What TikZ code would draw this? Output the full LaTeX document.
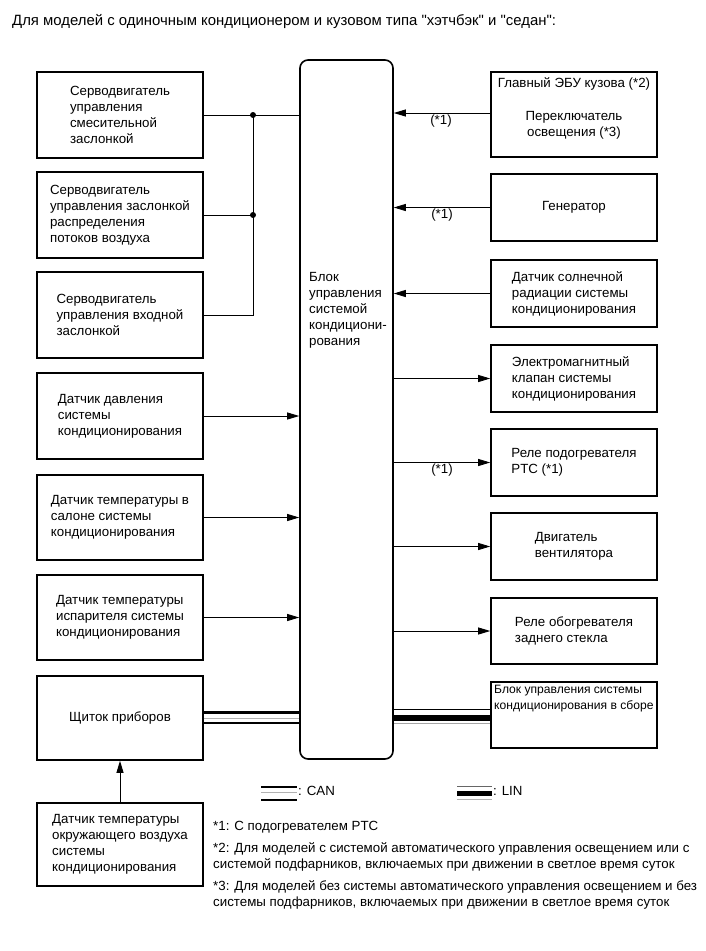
\documentclass[tikz,border=0pt]{standalone}
\usepackage{fontspec}
\setmainfont{Liberation Sans}[Ligatures=TeXOff]
\usetikzlibrary{arrows.meta}
\begin{document}
\begin{tikzpicture}[x=1pt,y=-1pt,
  box/.style={draw, line width=1.6pt, inner sep=0, font=\fontsize{13.3}{16}\selectfont, align=left},
  lbox/.style={box, minimum width=166pt},
  txt/.style={font=\fontsize{13.3}{16}\selectfont, align=left, inner sep=0},
  conn/.style={line width=0.9pt},
  arr/.style={conn, -{Triangle[length=12pt,width=7pt]}},
  jdot/.style={circle, fill, inner sep=0, minimum size=6pt},
  canb/.style={line width=2.6pt},
  cang/.style={line width=1pt, gray!60},
  linb/.style={line width=6pt},
  lint/.style={line width=0.9pt}]
\path[use as bounding box, fill=white] (0,0) rectangle (705,951);

\node[txt, anchor=west, font=\fontsize{14.9}{17}\selectfont] (title) at (12,22) {Для моделей с одиночным кондиционером и кузовом типа "хэтчбэк" и "седан":};

% central block
\node[draw, line width=1.6pt, rounded corners=8pt, minimum width=93pt, minimum height=699pt, inner sep=0] (B) at (346.5,409.5) {};
\node[txt, anchor=base west] (Btxt) at (309,345) {Блок\\управления\\системой\\кондициони-\\рования};

% left boxes
\node[lbox, minimum height=86pt] (L1) at (120,115) {Серводвигатель\\управления\\смесительной\\заслонкой};
\node[lbox, minimum height=86pt] (L2) at (120,215) {Серводвигатель\\управления заслонкой\\распределения\\потоков воздуха};
\node[lbox, minimum height=86pt] (L3) at (120,315) {Серводвигатель\\управления входной\\заслонкой};
\node[lbox, minimum height=86pt] (L4) at (120,416) {Датчик давления\\системы\\кондиционирования};
\node[lbox, minimum height=85pt] (L5) at (120,517.5) {Датчик температуры в\\салоне системы\\кондиционирования};
\node[lbox, minimum height=85pt] (L6) at (120,617.5) {Датчик температуры\\испарителя системы\\кондиционирования};
\node[lbox, minimum height=84pt] (L7) at (120,718) {Щиток приборов};
\node[lbox, minimum height=83pt] (L8) at (120,844.5) {Датчик температуры\\окружающего воздуха\\системы\\кондиционирования};

% right boxes
\node[lbox, minimum height=85pt] (R1) at (574,114.5) {};
\node[txt, align=center] (R1t) at (574,108.5) {Главный ЭБУ кузова (*2)\\[17pt]Переключатель\\освещения (*3)};
\node[lbox, minimum height=67pt, align=center] (R2) at (574,207.5) {Генератор};
\node[lbox, minimum height=67pt] (R3) at (574,293.5) {Датчик солнечной\\радиации системы\\кондиционирования};
\node[lbox, minimum height=67pt] (R4) at (574,378.5) {Электромагнитный\\клапан системы\\кондиционирования};
\node[lbox, minimum height=67pt] (R5) at (574,462.5) {Реле подогревателя\\PTC (*1)};
\node[lbox, minimum height=67pt] (R6) at (574,546.5) {Двигатель\\вентилятора};
\node[lbox, minimum height=66pt] (R7) at (574,631) {Реле обогревателя\\заднего стекла};
\node[lbox, minimum height=66pt] (R8) at (574,715) {};
\node[txt, anchor=north west, font=\fontsize{12.1}{16}\selectfont] (R8t) at (494,685) {Блок управления системы\\кондиционирования в сборе};

% left connectors
\coordinate (J) at (253,115);
\draw[conn] (L1.east) -- (B.west |- L1.east);
\draw[conn] (L2.east) -- (J |- L2.east);
\draw[conn] (L3.east) -- (J |- L3.east) -- (J);
\node[jdot] (J1) at (J) {};
\node[jdot] (J2) at (J |- L2.east) {};
\draw[arr] (L4.east) -- (B.west |- L4.east);
\draw[arr] (L5.east) -- (B.west |- L5.east);
\draw[arr] (L6.east) -- (B.west |- L6.east);
\draw[arr] (L8.north) -- (L7.south);

% right connectors
\coordinate (r1y) at (0,113);
\draw[arr] (R1.west |- r1y) -- (B.east |- r1y);
\draw[arr] (R2.west) -- (B.east |- R2.west);
\draw[arr] (R3.west) -- (B.east |- R3.west);
\draw[arr] (B.east |- R4.west) -- (R4.west);
\draw[arr] (B.east |- R5.west) -- (R5.west);
\draw[arr] (B.east |- R6.west) -- (R6.west);
\draw[arr] (B.east |- R7.west) -- (R7.west);
\node[txt] (s1) at (441,121) {(*1)};
\node[txt] (s2) at (442,215) {(*1)};
\node[txt] (s5) at (442,470) {(*1)};

% CAN bus (left)
\coordinate (c1) at (0,712.3);
\coordinate (c2) at (0,718);
\coordinate (c3) at (0,723);
\draw[canb] (L7.east |- c1) -- (B.west |- c1);
\draw[cang] (L7.east |- c2) -- (B.west |- c2);
\draw[canb] (L7.east |- c3) -- (B.west |- c3);

% LIN bus (right)
\coordinate (l1) at (0,709.5);
\coordinate (l2) at (0,717.7);
\coordinate (l3) at (0,723.5);
\draw[lint] (B.east |- l1) -- (R8.west |- l1);
\draw[linb] (B.east |- l2) -- (R8.west |- l2);
\draw[lint, gray!70] (B.east |- l3) -- (R8.west |- l3);

% legend
\draw[line width=2pt] (261,786.7) -- (297,786.7);
\draw[cang] (261,792.3) -- (297,792.3);
\draw[line width=2pt] (261,800.3) -- (297,800.3);
\node[txt, anchor=west] (canl) at (298,791) {: CAN};
\draw[lint, gray!80!black] (457,786) -- (492,786);
\draw[line width=5pt] (457,793.3) -- (492,793.3);
\draw[lint, gray!60] (457,799.5) -- (492,799.5);
\node[txt, anchor=west] (linl) at (493,791) {: LIN};

% footnotes
\node[txt, anchor=west] (f1) at (213,827) {*1: С подогревателем PTC};
\node[txt, anchor=north west] (f2) at (213,842) {*2: Для моделей с системой автоматического управления освещением или с\\системой подфарников, включаемых при движении в светлое время суток};
\node[txt, anchor=north west] (f3) at (213,880) {*3: Для моделей без системы автоматического управления освещением и без\\системы подфарников, включаемых при движении в светлое время суток};
\end{tikzpicture}
\end{document}
